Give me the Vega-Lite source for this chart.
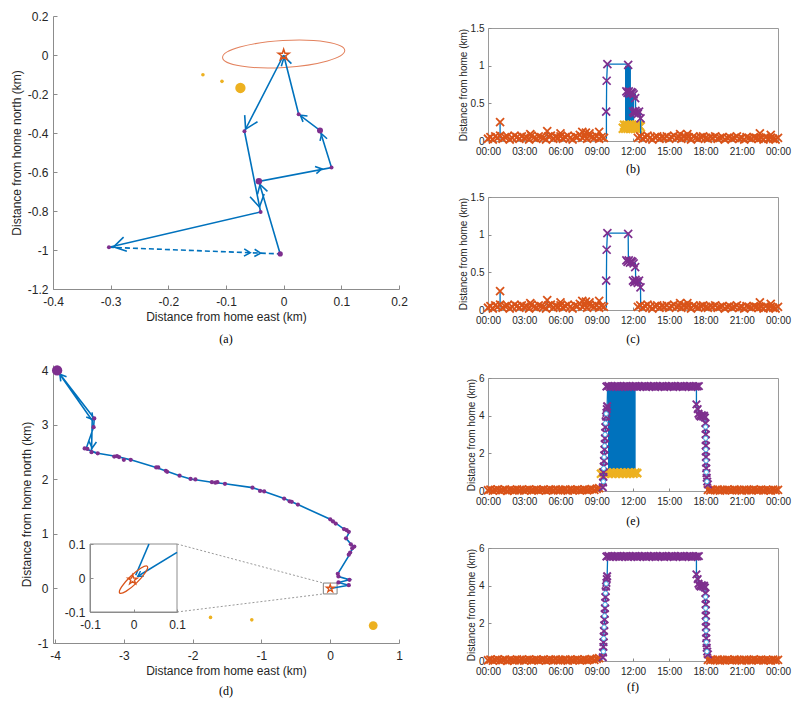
{
"$schema":"https://vega.github.io/schema/vega-lite/v6.json",
"padding":{"left":10,"top":10,"right":5,"bottom":5},
"background":"white",
"config":{
 "view":{"stroke":null},
 "font":"Liberation Sans",
 "axis":{"labelFont":"Liberation Sans","titleFont":"Liberation Sans","labelColor":"#262626","titleColor":"#262626","titleFontWeight":"normal","domainColor":"#8c8c8c","tickColor":"#8c8c8c","grid":false,"labelFontSize":12,"titleFontSize":12,"labelFlush":false,"labelOverlap":false},
 "title":{"font":"Liberation Serif","fontSize":12,"fontWeight":"normal","color":"#000000"}
},
"datasets":{
 "orgBC":[{"t":0,"d":0.03},{"t":0.2,"d":0.05},{"t":0.4,"d":0.02},{"t":0.6,"d":0.06},{"t":0.8,"d":0.04},{"t":1,"d":0.07},{"t":1.2,"d":0.03},{"t":1.4,"d":0.05},{"t":1.6,"d":0.06},{"t":1.8,"d":0.02},
{"t":2,"d":0.04},{"t":2.2,"d":0.07},{"t":2.4,"d":0.05},{"t":2.6,"d":0.03},{"t":2.8,"d":0.06},{"t":3,"d":0.04},{"t":3.2,"d":0.05},{"t":3.4,"d":0.02},{"t":3.6,"d":0.07},{"t":3.8,"d":0.04},
{"t":4,"d":0.03},{"t":4.2,"d":0.06},{"t":4.4,"d":0.05},{"t":4.6,"d":0.04},{"t":4.8,"d":0.02},{"t":5,"d":0.06},{"t":5.2,"d":0.07},{"t":5.4,"d":0.03},{"t":5.6,"d":0.05},{"t":5.8,"d":0.04},
{"t":6,"d":0.06},{"t":6.2,"d":0.03},{"t":6.4,"d":0.05},{"t":6.6,"d":0.07},{"t":6.8,"d":0.04},{"t":7,"d":0.02},{"t":7.2,"d":0.06},{"t":7.4,"d":0.05},{"t":7.6,"d":0.08},{"t":7.8,"d":0.04},
{"t":8,"d":0.06},{"t":8.2,"d":0.03},{"t":8.4,"d":0.07},{"t":8.6,"d":0.05},{"t":8.8,"d":0.04},{"t":9,"d":0.06},{"t":9.2,"d":0.03},{"t":9.4,"d":0.05},{"t":9.6,"d":0.04},
{"t":12.4,"d":0.04},{"t":12.6,"d":0.06},{"t":12.8,"d":0.03},{"t":13,"d":0.05},{"t":13.2,"d":0.07},{"t":13.4,"d":0.04},{"t":13.6,"d":0.02},{"t":13.8,"d":0.05},{"t":14,"d":0.06},{"t":14.2,"d":0.03},
{"t":14.4,"d":0.05},{"t":14.6,"d":0.04},{"t":14.8,"d":0.06},{"t":15,"d":0.03},{"t":15.2,"d":0.05},{"t":15.4,"d":0.07},{"t":15.6,"d":0.04},{"t":15.8,"d":0.05},{"t":16,"d":0.03},{"t":16.2,"d":0.06},
{"t":16.4,"d":0.04},{"t":16.6,"d":0.05},{"t":16.8,"d":0.02},{"t":17,"d":0.06},{"t":17.2,"d":0.04},{"t":17.4,"d":0.03},{"t":17.6,"d":0.05},{"t":17.8,"d":0.06},{"t":18,"d":0.04},{"t":18.2,"d":0.03},
{"t":18.4,"d":0.05},{"t":18.6,"d":0.04},{"t":18.8,"d":0.06},{"t":19,"d":0.03},{"t":19.2,"d":0.04},{"t":19.4,"d":0.05},{"t":19.6,"d":0.02},{"t":19.8,"d":0.04},{"t":20,"d":0.05},{"t":20.2,"d":0.03},
{"t":20.4,"d":0.04},{"t":20.6,"d":0.06},{"t":20.8,"d":0.03},{"t":21,"d":0.04},{"t":21.2,"d":0.02},{"t":21.4,"d":0.05},{"t":21.6,"d":0.04},{"t":21.8,"d":0.03},{"t":22,"d":0.05},{"t":22.2,"d":0.04},
{"t":22.4,"d":0.03},{"t":22.6,"d":0.04},{"t":22.8,"d":0.02},{"t":23,"d":0.05},{"t":23.2,"d":0.03},{"t":23.4,"d":0.04},{"t":23.6,"d":0.03},{"t":23.8,"d":0.02},{"t":24,"d":0.04},
{"t":1,"d":0.25},{"t":4.9,"d":0.13},{"t":3.5,"d":0.09},{"t":6,"d":0.1},{"t":7.8,"d":0.12},{"t":8.1,"d":0.11},{"t":8.4,"d":0.1},{"t":9.2,"d":0.12},{"t":15.9,"d":0.09},{"t":16.5,"d":0.09},{"t":22.5,"d":0.1},{"t":23.4,"d":0.08}],
 "purBC":[{"t":9.78,"d":0.39},{"t":9.82,"d":0.8},{"t":9.88,"d":1.02},{"t":11.6,"d":1.01},{"t":11.45,"d":0.66},{"t":11.55,"d":0.64},{"t":11.65,"d":0.66},{"t":11.75,"d":0.63},{"t":11.85,"d":0.65},{"t":11.95,"d":0.64},{"t":12.05,"d":0.62},{"t":12.18,"d":0.57},{"t":12.0,"d":0.39},{"t":12.1,"d":0.37},{"t":12.2,"d":0.4},{"t":12.3,"d":0.38},{"t":12.4,"d":0.36},{"t":12.5,"d":0.39},{"t":12.62,"d":0.3}],
 "lineBC":[{"g":"s1","o":1,"t":1,"d":0.03},{"g":"s1","o":2,"t":1,"d":0.25},{"g":"s2","o":1,"t":4.9,"d":0.03},{"g":"s2","o":2,"t":4.9,"d":0.13},
{"g":"trip","o":1,"t":9.8,"d":0.03},{"g":"trip","o":2,"t":9.8,"d":0.39},{"g":"trip","o":3,"t":9.82,"d":0.8},{"g":"trip","o":4,"t":9.88,"d":1.02},{"g":"trip","o":5,"t":11.6,"d":1.02},{"g":"trip","o":6,"t":11.62,"d":0.65},{"g":"trip","o":7,"t":12.2,"d":0.62},{"g":"trip","o":8,"t":12.22,"d":0.4},{"g":"trip","o":9,"t":12.6,"d":0.36},{"g":"trip","o":10,"t":12.62,"d":0.3},{"g":"trip","o":11,"t":12.64,"d":0.03}],
 "rectB":[{"t":11.34,"t2":11.83,"d":0.24,"d2":1.0},{"t":11.34,"t2":12.1,"d":0.24,"d2":0.65}],
 "yelB":[{"t":11.2,"d":0.17},{"t":11.3,"d":0.21},{"t":11.4,"d":0.17},{"t":11.5,"d":0.21},{"t":11.6,"d":0.17},{"t":11.7,"d":0.21},{"t":11.8,"d":0.17},{"t":11.9,"d":0.21},{"t":12,"d":0.17},{"t":12.1,"d":0.21},{"t":12.2,"d":0.17},{"t":12.3,"d":0.21},{"t":12.4,"d":0.17},{"t":12.5,"d":0.21},{"t":12.6,"d":0.19}],
 "orgEF":[{"t":0,"d":0.04},{"t":0.2,"d":0.07},{"t":0.4,"d":0.02},{"t":0.6,"d":0.06},{"t":0.8,"d":0.09},{"t":1,"d":0.03},{"t":1.2,"d":0.05},{"t":1.4,"d":0.08},{"t":1.6,"d":0.01},{"t":1.8,"d":0.06},
{"t":2,"d":0.05},{"t":2.2,"d":0.03},{"t":2.4,"d":0.08},{"t":2.6,"d":0.04},{"t":2.8,"d":0.07},{"t":3,"d":0.02},{"t":3.2,"d":0.06},{"t":3.4,"d":0.09},{"t":3.6,"d":0.04},{"t":3.8,"d":0.05},
{"t":4,"d":0.07},{"t":4.2,"d":0.03},{"t":4.4,"d":0.06},{"t":4.6,"d":0.08},{"t":4.8,"d":0.02},{"t":5,"d":0.05},{"t":5.2,"d":0.07},{"t":5.4,"d":0.04},{"t":5.6,"d":0.09},{"t":5.8,"d":0.03},
{"t":6,"d":0.06},{"t":6.2,"d":0.05},{"t":6.4,"d":0.08},{"t":6.6,"d":0.02},{"t":6.8,"d":0.07},{"t":7,"d":0.04},{"t":7.2,"d":0.06},{"t":7.4,"d":0.09},{"t":7.6,"d":0.03},{"t":7.8,"d":0.05},
{"t":8,"d":0.08},{"t":8.2,"d":0.04},{"t":8.4,"d":0.07},{"t":8.6,"d":0.1},{"t":8.8,"d":0.06},{"t":9,"d":0.12},{"t":9.2,"d":0.15},
{"t":18.2,"d":0.06},{"t":18.4,"d":0.03},{"t":18.6,"d":0.07},{"t":18.8,"d":0.05},{"t":19,"d":0.08},{"t":19.2,"d":0.02},{"t":19.4,"d":0.06},{"t":19.6,"d":0.04},{"t":19.8,"d":0.07},{"t":20,"d":0.05},
{"t":20.2,"d":0.03},{"t":20.4,"d":0.08},{"t":20.6,"d":0.05},{"t":20.8,"d":0.06},{"t":21,"d":0.02},{"t":21.2,"d":0.07},{"t":21.4,"d":0.04},{"t":21.6,"d":0.06},{"t":21.8,"d":0.03},{"t":22,"d":0.08},
{"t":22.2,"d":0.05},{"t":22.4,"d":0.04},{"t":22.6,"d":0.07},{"t":22.8,"d":0.03},{"t":23,"d":0.06},{"t":23.2,"d":0.05},{"t":23.4,"d":0.02},{"t":23.6,"d":0.07},{"t":23.8,"d":0.04},{"t":24,"d":0.06}],
 "purEF":[{"t":9.8,"d":5.55},{"t":9.95,"d":5.58},{"t":10.1,"d":5.52},{"t":10.25,"d":5.57},{"t":10.4,"d":5.54},{"t":10.55,"d":5.55},{"t":10.7,"d":5.58},{"t":10.85,"d":5.52},{"t":11,"d":5.57},{"t":11.15,"d":5.54},
{"t":11.3,"d":5.55},{"t":11.45,"d":5.58},{"t":11.6,"d":5.52},{"t":11.75,"d":5.57},{"t":11.9,"d":5.54},{"t":12.05,"d":5.55},{"t":12.2,"d":5.58},{"t":12.35,"d":5.52},{"t":12.5,"d":5.57},{"t":12.65,"d":5.54},
{"t":12.8,"d":5.55},{"t":12.95,"d":5.58},{"t":13.1,"d":5.52},{"t":13.25,"d":5.57},{"t":13.4,"d":5.54},{"t":13.55,"d":5.55},{"t":13.7,"d":5.58},{"t":13.85,"d":5.52},{"t":14,"d":5.57},{"t":14.15,"d":5.54},
{"t":14.3,"d":5.55},{"t":14.45,"d":5.58},{"t":14.6,"d":5.52},{"t":14.75,"d":5.57},{"t":14.9,"d":5.54},{"t":15.05,"d":5.55},{"t":15.2,"d":5.58},{"t":15.35,"d":5.52},{"t":15.5,"d":5.57},{"t":15.65,"d":5.54},
{"t":15.8,"d":5.55},{"t":15.95,"d":5.58},{"t":16.1,"d":5.52},{"t":16.25,"d":5.57},{"t":16.4,"d":5.54},{"t":16.55,"d":5.55},{"t":16.7,"d":5.58},{"t":16.85,"d":5.52},{"t":17,"d":5.57},{"t":17.15,"d":5.54},{"t":17.3,"d":5.55},{"t":17.45,"d":5.57},
{"t":9.5,"d":0.2},{"t":9.52,"d":0.45},{"t":9.55,"d":0.75},{"t":9.56,"d":1.0},{"t":9.58,"d":1.3},{"t":9.6,"d":1.6},{"t":9.62,"d":1.9},{"t":9.64,"d":2.2},{"t":9.66,"d":2.5},{"t":9.68,"d":2.8},{"t":9.7,"d":3.1},{"t":9.72,"d":3.4},{"t":9.74,"d":3.7},{"t":9.77,"d":3.95},{"t":9.8,"d":4.15},{"t":9.83,"d":4.35},{"t":9.86,"d":4.5},
{"t":17.25,"d":4.6},{"t":17.35,"d":4.35},{"t":17.42,"d":4.1},{"t":17.5,"d":4.0},{"t":17.6,"d":3.95},{"t":17.7,"d":4.02},{"t":17.8,"d":3.95},{"t":17.88,"d":4.0},{"t":17.95,"d":3.9},{"t":18,"d":3.6},{"t":18.01,"d":3.3},{"t":18.02,"d":3.0},{"t":18.02,"d":2.7},{"t":18.03,"d":2.4},{"t":18.03,"d":2.1},{"t":18.04,"d":1.8},{"t":18.05,"d":1.5},{"t":18.06,"d":1.2},{"t":18.08,"d":0.95},{"t":18.1,"d":0.7},{"t":18.14,"d":0.5},{"t":18.2,"d":0.35}],
 "lineEF":[{"o":1,"t":9.4,"d":0.05},{"o":2,"t":9.5,"d":0.2},{"o":3,"t":9.62,"d":1.9},{"o":4,"t":9.74,"d":3.7},{"o":5,"t":9.86,"d":4.5},{"o":6,"t":9.9,"d":5.55},{"o":7,"t":17.25,"d":5.55},{"o":8,"t":17.25,"d":4.6},{"o":9,"t":17.5,"d":4.0},{"o":10,"t":17.95,"d":3.9},{"o":11,"t":18.02,"d":3.0},{"o":12,"t":18.06,"d":1.2},{"o":13,"t":18.2,"d":0.35},{"o":14,"t":18.22,"d":0.05}],
 "circEF":[{"t":9.55,"d":0.5},{"t":9.57,"d":1.2},{"t":9.61,"d":1.8},{"t":9.65,"d":2.4},{"t":9.69,"d":3.0},{"t":9.73,"d":3.6},{"t":9.78,"d":4.1},{"t":18.01,"d":3.4},{"t":18.02,"d":2.8},{"t":18.03,"d":2.2},{"t":18.05,"d":1.6},{"t":18.07,"d":1.0},{"t":18.12,"d":0.5}],
 "rectE":[{"t":9.93,"t2":12.22,"d":1.11,"d2":5.4}],
 "yelE":[{"t":9.35,"d":0.92},{"t":9.5,"d":0.98},{"t":9.65,"d":0.92},{"t":9.8,"d":0.98},{"t":9.95,"d":0.92},{"t":10.1,"d":0.98},{"t":10.25,"d":0.92},{"t":10.4,"d":0.98},{"t":10.55,"d":0.92},{"t":10.7,"d":0.98},{"t":10.85,"d":0.92},{"t":11,"d":0.98},{"t":11.15,"d":0.92},{"t":11.3,"d":0.98},{"t":11.45,"d":0.92},{"t":11.6,"d":0.98},{"t":11.75,"d":0.92},{"t":11.9,"d":0.98},{"t":12.05,"d":0.92},{"t":12.2,"d":0.98},{"t":12.35,"d":0.95}]
},
"spacing":49,
"hconcat":[
 {"vconcat":[
  {"width":346,"height":273,
   "title":{"text":"(a)","orient":"bottom","offset":12},
   "encoding":{
    "x":{"field":"x","type":"quantitative","scale":{"domain":[-0.4,0.2],"nice":false,"zero":false},"axis":{"orient":"bottom","values":[-0.4,-0.3,-0.2,-0.1,0,0.1,0.2],"labelExpr":"replace(format(datum.value,'~g'),'−','-')","tickSize":-4,"labelPadding":11,"title":"Distance from home east (km)","titlePadding":4}},
    "y":{"field":"y","type":"quantitative","scale":{"domain":[-1.2,0.2],"nice":false,"zero":false},"axis":{"orient":"left","values":[-1.2,-1,-0.8,-0.6,-0.4,-0.2,0,0.2],"labelExpr":"replace(format(datum.value,'~g'),'−','-')","tickSize":-4,"labelPadding":9,"title":"Distance from home north (km)","titlePadding":4}}
   },
   "layer":[
    {"data":{"values":[{"x":0,"y":0.005}]},"mark":{"type":"point","shape":"M-1,0A1,0.22,0,1,0,1,0A1,0.22,0,1,0,-1,0Z","size":14982,"angle":356.6,"filled":false,"stroke":"#E3825E","strokeWidth":1,"opacity":1}},
    {"data":{"values":[{"g":"p1","o":1,"x":0,"y":0},{"g":"p1","o":2,"x":-0.068,"y":-0.391},{"g":"p1","o":3,"x":-0.04,"y":-0.805},{"g":"p1","o":4,"x":-0.303,"y":-0.986},
      {"g":"p2","o":1,"x":-0.006,"y":-1.02},{"g":"p2","o":2,"x":-0.043,"y":-0.648},{"g":"p2","o":3,"x":0.083,"y":-0.577},{"g":"p2","o":4,"x":0.063,"y":-0.387},{"g":"p2","o":5,"x":0.026,"y":-0.304},{"g":"p2","o":6,"x":0,"y":0}]},
     "mark":{"type":"line","stroke":"#0072BD","strokeWidth":1.6},"encoding":{"detail":{"field":"g"},"order":{"field":"o","type":"quantitative"}}},
    {"data":{"values":[{"o":1,"x":-0.303,"y":-0.986},{"o":2,"x":-0.006,"y":-1.02}]},"mark":{"type":"line","stroke":"#0072BD","strokeWidth":1.6,"strokeDash":[5,3]},"encoding":{"order":{"field":"o","type":"quantitative"}}},
    {"data":{"values":[{"x":-0.066,"y":-0.38,"dir":117.2},{"x":-0.042,"y":-0.78,"dir":78.7},{"x":-0.295,"y":-0.984,"dir":166.9}]},
     "mark":{"type":"point","shape":"M-1,-0.6L0,0L-1,0.6","size":576,"filled":false,"stroke":"#0072BD","strokeWidth":1.6,"opacity":1},
     "encoding":{"angle":{"field":"dir","type":"quantitative","scale":{"domain":[0,360],"range":[0,360]}}}},
    {"data":{"values":[{"x":-0.041,"y":-0.664,"dir":253.6},{"x":0.001,"y":-0.008,"dir":255.8}]},
     "mark":{"type":"point","shape":"M-1,-0.6L0,0L-1,0.6","size":300,"filled":false,"stroke":"#0072BD","strokeWidth":1.6,"opacity":1},
     "encoding":{"angle":{"field":"dir","type":"quantitative","scale":{"domain":[0,360],"range":[0,360]}}}},
    {"data":{"values":[{"x":0.066,"y":-0.584,"dir":349.3},{"x":0.066,"y":-0.405,"dir":252.7},{"x":0.029,"y":-0.309,"dir":217.3},{"x":-0.058,"y":-1.014,"dir":2.2},{"x":-0.04,"y":-1.016,"dir":2.2}]},
     "mark":{"type":"point","shape":"M-1,-0.6L0,0L-1,0.6","size":150,"filled":false,"stroke":"#0072BD","strokeWidth":1.6,"opacity":1},
     "encoding":{"angle":{"field":"dir","type":"quantitative","scale":{"domain":[0,360],"range":[0,360]}}}},
    {"data":{"values":[{"x":0.026,"y":-0.304,"w":1.6},{"x":0.063,"y":-0.387,"w":3.6},{"x":0.083,"y":-0.577,"w":1.6},{"x":-0.043,"y":-0.648,"w":4.2},{"x":-0.068,"y":-0.391,"w":1.6},{"x":-0.04,"y":-0.805,"w":1.6},{"x":-0.303,"y":-0.986,"w":1.6},{"x":-0.006,"y":-1.02,"w":2.8}]},
     "mark":{"type":"circle","color":"#7E2F8E","opacity":1},
     "encoding":{"size":{"field":"w","type":"quantitative","scale":{"domain":[0,12],"range":[0,120]},"legend":null}}},
    {"data":{"values":[{"x":-0.14,"y":-0.101,"w":1.3},{"x":-0.107,"y":-0.135,"w":1.3},{"x":-0.075,"y":-0.169,"w":10.7}]},
     "mark":{"type":"circle","color":"#EDB120","opacity":1},
     "encoding":{"size":{"field":"w","type":"quantitative","scale":{"domain":[0,12],"range":[0,120]},"legend":null}}},
    {"data":{"values":[{"x":0,"y":0}]},"mark":{"type":"point","shape":"M0,-1L0.2245,-0.309L0.9511,-0.309L0.3633,0.118L0.5878,0.809L0,0.382L-0.5878,0.809L-0.3633,0.118L-0.9511,-0.309L-0.2245,-0.309Z","size":130,"filled":false,"stroke":"#D95319","strokeWidth":1.5,"opacity":1}}
   ]
  },
  {"width":346,"height":278,
   "title":{"text":"(d)","orient":"bottom","offset":10},
   "resolve":{"scale":{"x":"independent","y":"independent"}},
   "layer":[
    {"encoding":{
      "x":{"field":"x","type":"quantitative","scale":{"domain":[-4.03,1],"nice":false,"zero":false},"axis":{"orient":"bottom","values":[-4,-3,-2,-1,0,1],"labelExpr":"replace(format(datum.value,'~g'),'−','-')","tickSize":-4,"labelPadding":11,"title":"Distance from home east (km)","titlePadding":4}},
      "y":{"field":"y","type":"quantitative","scale":{"domain":[-1,4.1],"nice":false,"zero":false},"axis":{"orient":"left","values":[-1,0,1,2,3,4],"labelExpr":"replace(format(datum.value,'~g'),'−','-')","tickSize":-4,"labelPadding":9,"title":"Distance from home north (km)","titlePadding":4}}
     },
     "layer":[
      {"data":{"values":[{"x":-0.1,"x2":0.1,"y":-0.1,"y2":0.1}]},"mark":{"type":"rect","filled":false,"stroke":"#7f7f7f","strokeWidth":1},"encoding":{"x2":{"field":"x2"},"y2":{"field":"y2"}}},
      {"data":{"values":[{"x":-2.227,"y":0.816,"x2":-0.1,"y2":0.1},{"x":-2.227,"y":-0.431,"x2":-0.1,"y2":-0.1}]},"mark":{"type":"rule","stroke":"#7f7f7f","strokeWidth":0.8,"strokeDash":[2,2]},"encoding":{"x2":{"field":"x2"},"y2":{"field":"y2"}}},
      {"data":{"values":[{"o":1,"x":0,"y":0},{"o":2,"x":0.27,"y":0.06},{"o":3,"x":0.12,"y":0.11},{"o":4,"x":0.28,"y":0.16},{"o":5,"x":0.12,"y":0.22},{"o":6,"x":0.11,"y":0.27},{"o":7,"x":0.28,"y":0.62},{"o":8,"x":0.29,"y":0.66},{"o":9,"x":0.35,"y":0.77},{"o":10,"x":0.31,"y":0.8},{"o":11,"x":0.23,"y":0.92},{"o":12,"x":0.28,"y":1.04},{"o":13,"x":0.2,"y":1.09},{"o":14,"x":0.1,"y":1.18},{"o":15,"x":0,"y":1.27},{"o":16,"x":-0.47,"y":1.54},{"o":17,"x":-0.67,"y":1.65},{"o":18,"x":-0.96,"y":1.78},{"o":19,"x":-1.13,"y":1.85},{"o":20,"x":-1.53,"y":1.92},{"o":21,"x":-1.72,"y":1.95},{"o":22,"x":-2.03,"y":2.01},{"o":23,"x":-2.19,"y":2.07},{"o":24,"x":-2.53,"y":2.22},{"o":25,"x":-2.9,"y":2.36},{"o":26,"x":-3.1,"y":2.42},{"o":27,"x":-3.38,"y":2.48},{"o":28,"x":-3.55,"y":2.56},{"o":29,"x":-3.44,"y":2.96},{"o":30,"x":-3.43,"y":3.12},{"o":31,"x":-3.97,"y":4.0},{"o":32,"x":-3.46,"y":3.08},{"o":33,"x":-3.47,"y":2.52},{"o":34,"x":-3.38,"y":2.47}]},
       "mark":{"type":"line","stroke":"#0072BD","strokeWidth":1.6},"encoding":{"order":{"field":"o","type":"quantitative"}}},
      {"data":{"values":[{"x":-3.93,"y":3.93,"dir":232},{"x":-3.45,"y":3.1,"dir":52},{"x":-3.46,"y":2.58,"dir":95}]},
       "mark":{"type":"point","shape":"M-1,-0.6L0,0L-1,0.6","size":150,"filled":false,"stroke":"#0072BD","strokeWidth":1.6,"opacity":1},
       "encoding":{"angle":{"field":"dir","type":"quantitative","scale":{"domain":[0,360],"range":[0,360]}}}},
      {"data":{"values":[{"x":-3.97,"y":4.0,"w":10.7},{"x":-3.43,"y":3.12,"w":1.8},{"x":-3.44,"y":2.96,"w":1.8},{"x":-3.57,"y":2.57,"w":1.8},{"x":-3.53,"y":2.56,"w":1.8},{"x":-3.47,"y":2.5,"w":1.8},{"x":-3.38,"y":2.48,"w":1.8},{"x":-3.14,"y":2.42,"w":1.8},{"x":-3.1,"y":2.43,"w":1.8},{"x":-3.07,"y":2.41,"w":1.8},{"x":-3.0,"y":2.36,"w":1.8},{"x":-2.9,"y":2.36,"w":1.8},{"x":-2.53,"y":2.22,"w":1.8},{"x":-2.5,"y":2.22,"w":1.8},{"x":-2.39,"y":2.16,"w":1.8},{"x":-2.37,"y":2.14,"w":1.8},{"x":-2.19,"y":2.07,"w":1.8},{"x":-2.03,"y":2.01,"w":1.8},{"x":-1.96,"y":2.0,"w":1.8},{"x":-1.72,"y":1.95,"w":1.8},{"x":-1.67,"y":1.94,"w":1.8},{"x":-1.64,"y":1.95,"w":1.8},{"x":-1.53,"y":1.92,"w":1.8},{"x":-1.13,"y":1.85,"w":1.8},{"x":-1.02,"y":1.79,"w":1.8},{"x":-0.96,"y":1.78,"w":1.8},{"x":-0.67,"y":1.65,"w":1.8},{"x":-0.59,"y":1.6,"w":1.8},{"x":-0.56,"y":1.59,"w":1.8},{"x":-0.47,"y":1.54,"w":1.8},{"x":0,"y":1.27,"w":1.8},{"x":0.04,"y":1.23,"w":1.8},{"x":0.08,"y":1.19,"w":1.8},{"x":0.2,"y":1.09,"w":1.8},{"x":0.24,"y":1.07,"w":1.8},{"x":0.27,"y":1.04,"w":1.8},{"x":0.23,"y":0.92,"w":1.8},{"x":0.3,"y":0.81,"w":1.8},{"x":0.35,"y":0.77,"w":1.8},{"x":0.32,"y":0.74,"w":1.8},{"x":0.29,"y":0.66,"w":1.8},{"x":0.27,"y":0.62,"w":1.8},{"x":0.11,"y":0.27,"w":1.8},{"x":0.12,"y":0.22,"w":1.8},{"x":0.12,"y":0.11,"w":1.8},{"x":0.28,"y":0.16,"w":1.8},{"x":0.27,"y":0.06,"w":1.8}]},
       "mark":{"type":"circle","color":"#7E2F8E","opacity":1},
       "encoding":{"size":{"field":"w","type":"quantitative","scale":{"domain":[0,12],"range":[0,120]},"legend":null}}},
      {"data":{"values":[{"x":-1.74,"y":-0.53,"w":1.3},{"x":-1.14,"y":-0.575,"w":1.3},{"x":0.625,"y":-0.68,"w":7.8}]},
       "mark":{"type":"circle","color":"#EDB120","opacity":1},
       "encoding":{"size":{"field":"w","type":"quantitative","scale":{"domain":[0,12],"range":[0,120]},"legend":null}}},
      {"data":{"values":[{"x":0,"y":0}]},"mark":{"type":"point","shape":"M0,-1L0.2245,-0.309L0.9511,-0.309L0.3633,0.118L0.5878,0.809L0,0.382L-0.5878,0.809L-0.3633,0.118L-0.9511,-0.309L-0.2245,-0.309Z","size":64,"filled":false,"stroke":"#D95319","strokeWidth":1.3,"opacity":1}}
     ]},
    {"encoding":{
      "x":{"field":"x","type":"quantitative","scale":{"domain":[-0.1,0.1],"range":[37,124],"nice":false,"zero":false},"axis":{"orient":"bottom","offset":-31,"values":[-0.1,0,0.1],"labelExpr":"replace(format(datum.value,'~g'),'−','-')","tickSize":-3,"labelPadding":10,"title":null,"zindex":1}},
      "y":{"field":"y","type":"quantitative","scale":{"domain":[-0.1,0.1],"range":[247,179],"nice":false,"zero":false},"axis":{"orient":"left","offset":-37,"values":[-0.1,0,0.1],"labelExpr":"replace(format(datum.value,'~g'),'−','-')","tickSize":-3,"labelPadding":8,"title":null,"zindex":1}}
     },
     "layer":[
      {"data":{"values":[{"x":-0.1,"x2":0.1,"y":-0.1,"y2":0.1}]},"mark":{"type":"rect","fill":"white","stroke":"#8c8c8c","strokeWidth":1},"encoding":{"x2":{"field":"x2"},"y2":{"field":"y2"}}},
      {"data":{"values":[{"g":"a","o":1,"x":0.005,"y":0.008},{"g":"a","o":2,"x":0.0356,"y":0.1},{"g":"b","o":1,"x":0.01,"y":0.005},{"g":"b","o":2,"x":0.1,"y":0.0754}]},
       "mark":{"type":"line","stroke":"#0072BD","strokeWidth":1.6},"encoding":{"detail":{"field":"g"},"order":{"field":"o","type":"quantitative"}}},
      {"data":{"values":[{"x":0.01,"y":0.005,"dir":148}]},
       "mark":{"type":"point","shape":"M-1,-0.6L0,0L-1,0.6","size":100,"filled":false,"stroke":"#0072BD","strokeWidth":1.4,"opacity":1},
       "encoding":{"angle":{"field":"dir","type":"quantitative","scale":{"domain":[0,360],"range":[0,360]}}}},
      {"data":{"values":[{"x":0,"y":-0.005}]},"mark":{"type":"point","shape":"M-1,0A1,0.23,0,1,0,1,0A1,0.23,0,1,0,-1,0Z","size":1475,"angle":316,"filled":false,"stroke":"#D95319","strokeWidth":1.3,"opacity":1}},
      {"data":{"values":[{"x":-0.002,"y":-0.005}]},"mark":{"type":"point","shape":"M0,-1L0.2245,-0.309L0.9511,-0.309L0.3633,0.118L0.5878,0.809L0,0.382L-0.5878,0.809L-0.3633,0.118L-0.9511,-0.309L-0.2245,-0.309Z","size":100,"filled":false,"stroke":"#D95319","strokeWidth":1.4,"opacity":1}}
     ]}
   ]
  }
 ],"spacing":76,"bounds":"flush","align":"each"},
 {"vconcat":[
  {"width":290,"height":1,"data":{"values":[]},"mark":"point"},
  {"vconcat":[
   {"vconcat":[
  {"width":290,"height":113,"view":{"stroke":"#9a9a9a"},
   "title":{"text":"(b)","orient":"bottom","offset":8},
   "encoding":{
    "x":{"field":"t","type":"quantitative","scale":{"domain":[0,24],"nice":false,"zero":false},"axis":{"values":[0,3,6,9,12,15,18,21,24],"labelExpr":"(datum.value % 24 < 10 ? '0' : '') + (datum.value % 24) + ':00'","title":null,"domain":false,"tickSize":-3,"labelPadding":8,"labelFontSize":10}},
    "y":{"field":"d","type":"quantitative","scale":{"domain":[0,1.5],"nice":false,"zero":false},"axis":{"values":[0,0.5,1,1.5],"format":"~g","title":"Distance from home (km)","titleFontSize":10,"labelFontSize":10,"domain":false,"tickSize":-3,"labelPadding":7,"titlePadding":2}}
   },
   "layer":[
    {"data":{"name":"rectB"},"mark":{"type":"rect","color":"#0072BD"},"encoding":{"x2":{"field":"t2"},"y2":{"field":"d2"}}},
    {"data":{"name":"yelB"},"mark":{"type":"point","shape":"M-1,-1L1,1M-1,1L1,-1","size":81,"filled":false,"stroke":"#EDB120","strokeWidth":2.2,"opacity":1}},
    {"data":{"name":"lineBC"},"mark":{"type":"line","stroke":"#0072BD","strokeWidth":1.3},"encoding":{"detail":{"field":"g"},"order":{"field":"o","type":"quantitative"}}},
    {"data":{"name":"orgBC"},"mark":{"type":"point","shape":"M-1,-1L1,1M-1,1L1,-1","size":64,"filled":false,"stroke":"#D95319","strokeWidth":1.8,"opacity":1}},
    {"data":{"name":"purBC"},"mark":{"type":"point","shape":"M-1,-1L1,1M-1,1L1,-1","size":64,"filled":false,"stroke":"#7E2F8E","strokeWidth":1.7,"opacity":1}}
   ]},
  {"width":290,"height":113,"view":{"stroke":"#9a9a9a"},
   "title":{"text":"(c)","orient":"bottom","offset":9},
   "encoding":{
    "x":{"field":"t","type":"quantitative","scale":{"domain":[0,24],"nice":false,"zero":false},"axis":{"values":[0,3,6,9,12,15,18,21,24],"labelExpr":"(datum.value % 24 < 10 ? '0' : '') + (datum.value % 24) + ':00'","title":null,"domain":false,"tickSize":-3,"labelPadding":8,"labelFontSize":10}},
    "y":{"field":"d","type":"quantitative","scale":{"domain":[0,1.5],"nice":false,"zero":false},"axis":{"values":[0,0.5,1,1.5],"format":"~g","title":"Distance from home (km)","titleFontSize":10,"labelFontSize":10,"domain":false,"tickSize":-3,"labelPadding":7,"titlePadding":2}}
   },
   "layer":[
    {"data":{"name":"lineBC"},"mark":{"type":"line","stroke":"#0072BD","strokeWidth":1.3},"encoding":{"detail":{"field":"g"},"order":{"field":"o","type":"quantitative"}}},
    {"data":{"name":"orgBC"},"mark":{"type":"point","shape":"M-1,-1L1,1M-1,1L1,-1","size":64,"filled":false,"stroke":"#D95319","strokeWidth":1.8,"opacity":1}},
    {"data":{"name":"purBC"},"mark":{"type":"point","shape":"M-1,-1L1,1M-1,1L1,-1","size":64,"filled":false,"stroke":"#7E2F8E","strokeWidth":1.7,"opacity":1}}
   ]}
   ],"spacing":56,"bounds":"flush","align":"each"},
   {"vconcat":[
  {"width":290,"height":113,"view":{"stroke":"#9a9a9a"},
   "title":{"text":"(e)","orient":"bottom","offset":10},
   "encoding":{
    "x":{"field":"t","type":"quantitative","scale":{"domain":[0,24],"nice":false,"zero":false},"axis":{"values":[0,3,6,9,12,15,18,21,24],"labelExpr":"(datum.value % 24 < 10 ? '0' : '') + (datum.value % 24) + ':00'","title":null,"domain":false,"tickSize":-3,"labelPadding":8,"labelFontSize":10}},
    "y":{"field":"d","type":"quantitative","scale":{"domain":[0,6],"nice":false,"zero":false},"axis":{"values":[0,2,4,6],"format":"~g","title":"Distance from home (km)","titleFontSize":10,"labelFontSize":10,"domain":false,"tickSize":-3,"labelPadding":7,"titlePadding":2}}
   },
   "layer":[
    {"data":{"name":"rectE"},"mark":{"type":"rect","color":"#0072BD"},"encoding":{"x2":{"field":"t2"},"y2":{"field":"d2"}}},
    {"data":{"name":"yelE"},"mark":{"type":"point","shape":"M-1,-1L1,1M-1,1L1,-1","size":64,"filled":false,"stroke":"#EDB120","strokeWidth":2.2,"opacity":1}},
    {"data":{"name":"lineEF"},"mark":{"type":"line","stroke":"#0072BD","strokeWidth":1.3},"encoding":{"order":{"field":"o","type":"quantitative"}}},
    {"data":{"name":"orgEF"},"mark":{"type":"point","shape":"M-1,-1L1,1M-1,1L1,-1","size":64,"filled":false,"stroke":"#D95319","strokeWidth":1.8,"opacity":1}},
    {"data":{"name":"purEF"},"mark":{"type":"point","shape":"M-1,-1L1,1M-1,1L1,-1","size":56,"filled":false,"stroke":"#7E2F8E","strokeWidth":2,"opacity":1}},
    {"data":{"name":"circEF"},"mark":{"type":"point","shape":"circle","size":18,"filled":false,"fill":"white","stroke":"#4DBEEE","strokeWidth":1,"opacity":1}}
   ]},
  {"width":290,"height":113,"view":{"stroke":"#9a9a9a"},
   "title":{"text":"(f)","orient":"bottom","offset":6},
   "encoding":{
    "x":{"field":"t","type":"quantitative","scale":{"domain":[0,24],"nice":false,"zero":false},"axis":{"values":[0,3,6,9,12,15,18,21,24],"labelExpr":"(datum.value % 24 < 10 ? '0' : '') + (datum.value % 24) + ':00'","title":null,"domain":false,"tickSize":-3,"labelPadding":8,"labelFontSize":10}},
    "y":{"field":"d","type":"quantitative","scale":{"domain":[0,6],"nice":false,"zero":false},"axis":{"values":[0,2,4,6],"format":"~g","title":"Distance from home (km)","titleFontSize":10,"labelFontSize":10,"domain":false,"tickSize":-3,"labelPadding":7,"titlePadding":2}}
   },
   "layer":[
    {"data":{"name":"lineEF"},"mark":{"type":"line","stroke":"#0072BD","strokeWidth":1.3},"encoding":{"order":{"field":"o","type":"quantitative"}}},
    {"data":{"name":"orgEF"},"mark":{"type":"point","shape":"M-1,-1L1,1M-1,1L1,-1","size":64,"filled":false,"stroke":"#D95319","strokeWidth":1.8,"opacity":1}},
    {"data":{"name":"purEF"},"mark":{"type":"point","shape":"M-1,-1L1,1M-1,1L1,-1","size":56,"filled":false,"stroke":"#7E2F8E","strokeWidth":2,"opacity":1}},
    {"data":{"name":"circEF"},"mark":{"type":"point","shape":"circle","size":18,"filled":false,"fill":"white","stroke":"#4DBEEE","strokeWidth":1,"opacity":1}}
   ]}
   ],"spacing":57,"bounds":"flush","align":"each"}
  ],"spacing":26,"align":"each"}
 ],"spacing":5,"align":"each"}
]
}
